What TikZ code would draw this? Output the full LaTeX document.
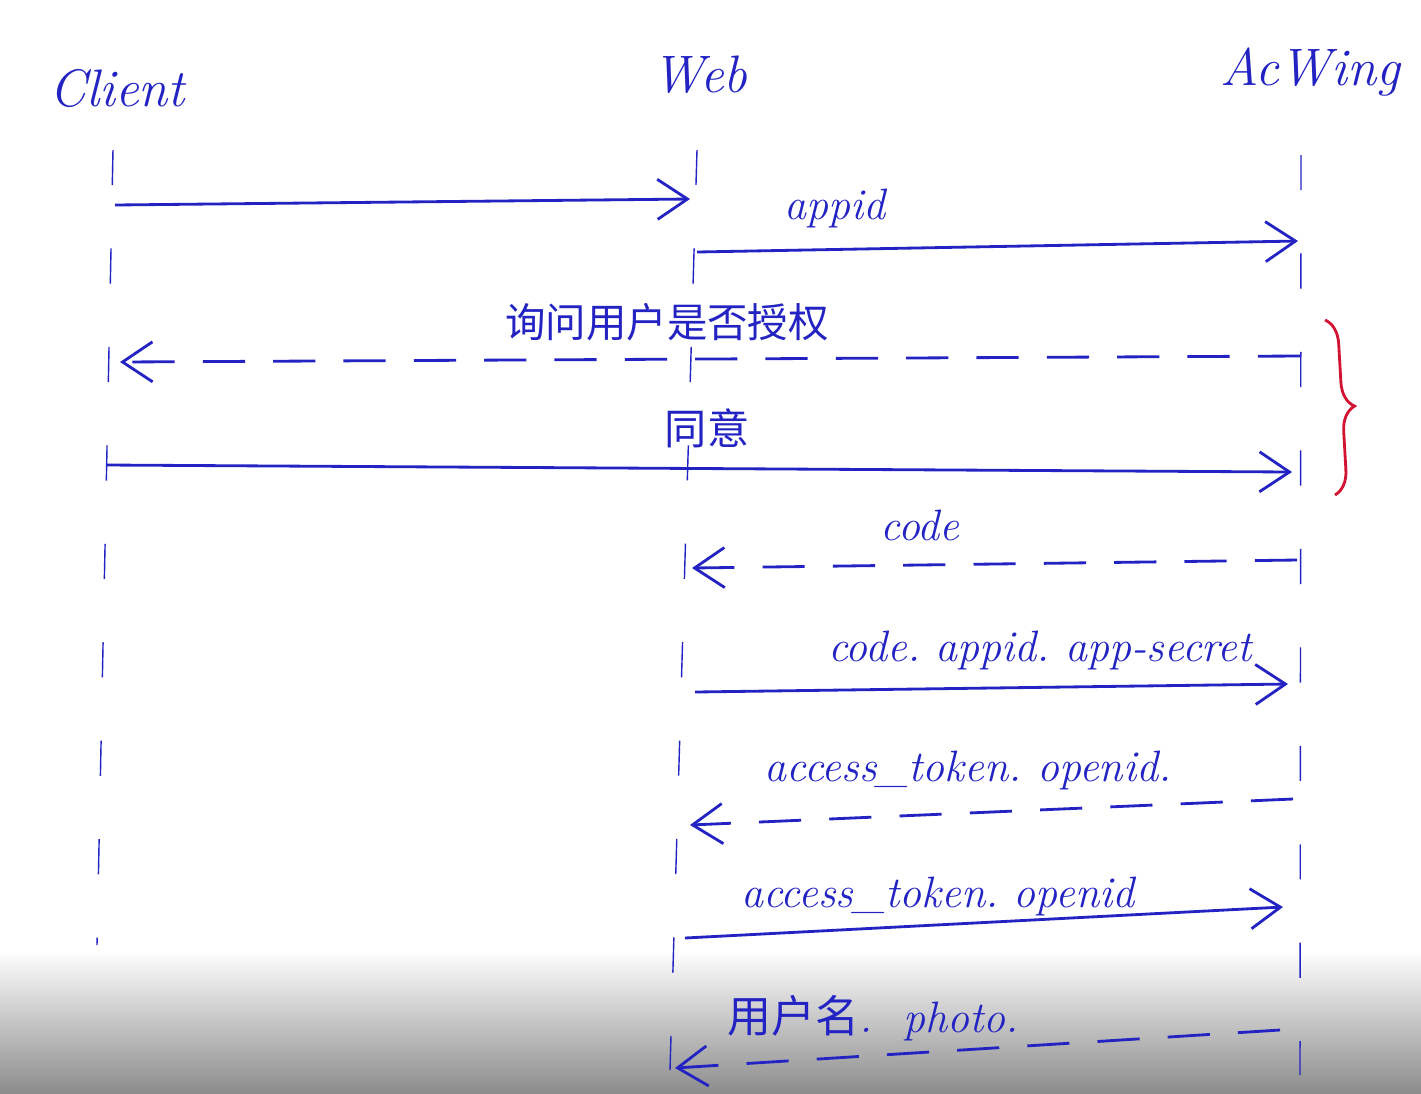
\documentclass[tikz,border=0pt]{standalone}
\usepackage{fontspec}
\newfontfamily\cjk{Noto Sans CJK SC}
\usetikzlibrary{arrows.meta}
\usetikzlibrary{decorations.pathreplacing}
\definecolor{pen}{RGB}{35,35,195}
\definecolor{redpen}{RGB}{210,20,50}

\begin{document}
\begin{tikzpicture}[x=0.01cm, y=-0.01cm, >={Straight Barb[length=3mm,width=4mm]},
  actor/.style={pen, font=\itshape\fontsize{15}{18}\selectfont},
  msg/.style={pen, font=\itshape\fontsize{12.5}{15}\selectfont, inner sep=1},
  life/.style={pen, thin, dash pattern=on 10pt off 18pt},
  call/.style={pen, thick, ->},
  reply/.style={pen, thick, ->, dash pattern=on 12pt off 8pt}]
\useasboundingbox (0,0) rectangle (1421,1093);
\shade[top color=white, bottom color=black!45] (0,950) rectangle (1421,1093);
% actors and lifelines
\node[actor] (client) at (117,88) {Client};
\node[actor] (web) at (700,75) {Web};
\node[actor] (acw) at (1310,72) {AcWing};
\coordinate (cTop) at (113,150); \coordinate (cBot) at (97,945);
\coordinate (wTop) at (697,150); \coordinate (wBot) at (670,1070);
\coordinate (aTop) at (1301,155); \coordinate (aBot) at (1300,1075);
\foreach \a in {c,w,a} \draw[life] (\a Top) -- (\a Bot);
% messages
\coordinate (m1s) at (115,205);  \coordinate (m1e) at (690,199);
\coordinate (m2s) at (697,252);  \coordinate (m2e) at (1298,241);
\coordinate (m3s) at (1300,356); \coordinate (m3e) at (120,362);
\coordinate (m4s) at (107,465);  \coordinate (m4e) at (1292,472);
\coordinate (m5s) at (1297,560); \coordinate (m5e) at (692,568);
\coordinate (m6s) at (695,692);  \coordinate (m6e) at (1288,684);
\coordinate (m7s) at (1293,799); \coordinate (m7e) at (690,825);
\coordinate (m8s) at (685,938);  \coordinate (m8e) at (1283,907);
\coordinate (m9s) at (1280,1030); \coordinate (m9e) at (675,1068);
\foreach \m in {1,2,4,6,8} \draw[call] (m\m s) -- (m\m e);
\foreach \m in {3,5,7,9} \draw[reply] (m\m s) -- (m\m e);
\node[msg] (l2) at (835,208) {appid};
\node[msg, font=\cjk\fontsize{11.5}{14}\selectfont] (l3) at (667,322) {询问用户是否授权};
\node[msg, font=\cjk\fontsize{12}{14}\selectfont] (l4) at (707,428) {同意};
\node[msg] (l5) at (920,525) {code};
\node[msg] (l6) at (1040,650) {code.\ appid.\ app-secret};
\node[msg] (l7) at (968,770) {access\_token.\ openid.};
\node[msg] (l8) at (938,896) {access\_token.\ openid};
\node[msg] (l9) at (873,1018) {{\cjk 用户名}.\ \ photo.};
% user consent
\draw[redpen, thick, decorate, decoration={brace, amplitude=7pt}] (1325,320) -- (1335,495);
\end{tikzpicture}
\end{document}
